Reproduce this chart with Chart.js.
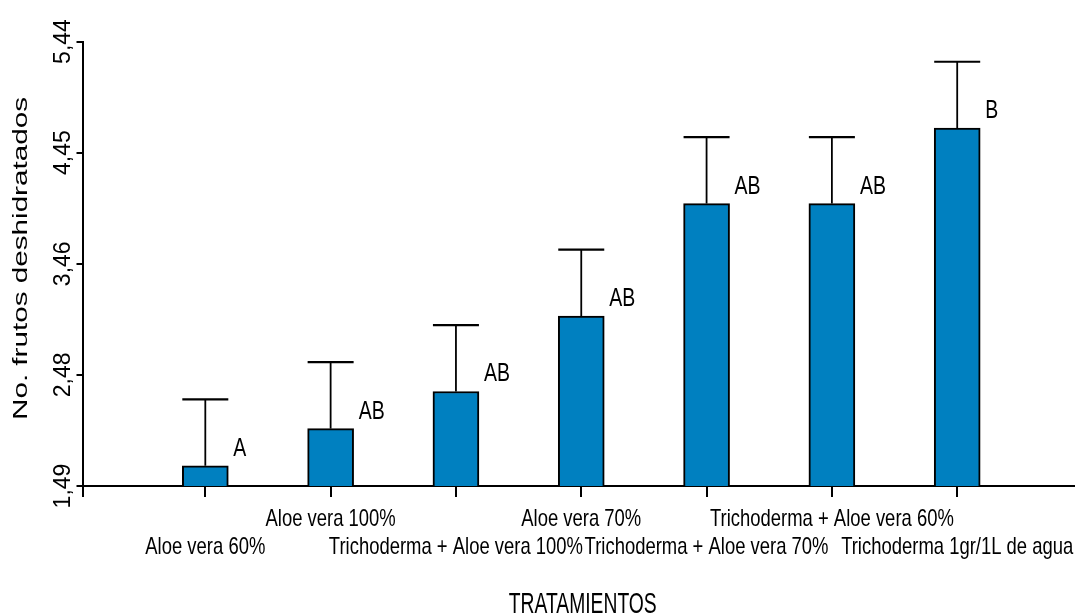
<!DOCTYPE html>
<html>
<head>
<meta charset="utf-8">
<script src="https://cdn.jsdelivr.net/npm/chart.js@4.4.1/dist/chart.umd.min.js"></script>
<style>
  html, body { margin: 0; padding: 0; background: #fff; overflow: hidden; }
  canvas { display: block; }
</style>
</head>
<body>
<canvas id="grafico" width="1075" height="615"></canvas>
<script>
// Tratamientos evaluados y número medio de frutos deshidratados
const tratamientos = [
  'Aloe vera 60%',
  'Aloe vera 100%',
  'Trichoderma + Aloe vera 100%',
  'Aloe vera 70%',
  'Trichoderma + Aloe vera 70%',
  'Trichoderma + Aloe vera 60%',
  'Trichoderma 1gr/1L de agua'
];
const medias  = [1.67, 2.00, 2.33, 3.00, 4.00, 4.00, 4.67];
const errores = [0.59, 0.59, 0.59, 0.59, 0.59, 0.59, 0.59];
const letras  = ['A', 'AB', 'AB', 'AB', 'AB', 'AB', 'B'];

// Marcas del eje Y
const yTicks      = [1.49, 2.4775, 3.465, 4.4525, 5.44];
const yTickLabels = ['1,49', '2,48', '3,46', '4,45', '5,44'];

const SANS = '"Liberation Sans", Arial, sans-serif';

// Texto con condensación horizontal (tipo "narrow")
function texto(ctx, str, x, y, size, factor, align, giro) {
  ctx.save();
  ctx.font = size + 'px ' + SANS;
  ctx.textAlign = align || 'center';
  ctx.textBaseline = 'alphabetic';
  ctx.translate(x, y);
  if (giro) ctx.rotate(giro);
  ctx.scale(factor, 1);
  ctx.fillText(str, 0, 0);
  ctx.restore();
}
function factorPara(ctx, muestra, size, ancho) {
  ctx.save();
  ctx.font = size + 'px ' + SANS;
  const w = ctx.measureText(muestra).width;
  ctx.restore();
  return ancho / w;
}

// Barras de error (solo hacia arriba) y letras de significancia
const barrasError = {
  id: 'barrasError',
  afterDatasetsDraw(chart) {
    const ctx = chart.ctx;
    const y = chart.scales.y;
    const meta = chart.getDatasetMeta(0);
    const fLetra = factorPara(ctx, 'AB', 25, 26);
    ctx.save();
    ctx.strokeStyle = '#000';
    ctx.fillStyle = '#000';
    meta.data.forEach((bar, i) => {
      const tope = y.getPixelForValue(medias[i] + errores[i]);
      const mitad = bar.width / 2;
      ctx.lineWidth = 1.8;
      ctx.beginPath();
      ctx.moveTo(bar.x, bar.y);
      ctx.lineTo(bar.x, tope);
      ctx.stroke();
      ctx.lineWidth = 2.2;
      ctx.beginPath();
      ctx.moveTo(bar.x - mitad, tope);
      ctx.lineTo(bar.x + mitad, tope);
      ctx.stroke();
      texto(ctx, letras[i], bar.x + mitad + 5, bar.y - 10, 25, fLetra, 'left');
    });
    ctx.restore();
  }
};

// Rótulos de los ejes
const rotulos = {
  id: 'rotulos',
  afterDraw(chart) {
    const ctx = chart.ctx;
    const x = chart.scales.x;
    const y = chart.scales.y;
    const area = chart.chartArea;
    ctx.save();
    ctx.fillStyle = '#000';

    // valores del eje Y, girados
    yTicks.forEach((v, i) => {
      texto(ctx, yTickLabels[i], 70, y.getPixelForValue(v), 23, 1, 'center', -Math.PI / 2);
    });

    // nombres de los tratamientos en dos filas alternas
    const fTick = factorPara(ctx, 'Aloe vera 60%', 24, 120);
    tratamientos.forEach((t, i) => {
      const fila = i % 2 === 0 ? 553.5 : 526;
      texto(ctx, t, x.getPixelForValue(i), fila, 24, fTick, 'center');
    });

    // título del eje Y
    const tituloY = 'No. frutos deshidratados';
    texto(ctx, tituloY, 27.3, 258.5, 19.5, factorPara(ctx, tituloY, 19.5, 323), 'center', -Math.PI / 2);

    // título del eje X
    const tituloX = 'TRATAMIENTOS';
    texto(ctx, tituloX, (area.left + area.right) / 2 + 4, 613, 29, factorPara(ctx, tituloX, 29, 148), 'center');

    ctx.restore();
  }
};

new Chart(document.getElementById('grafico'), {
  type: 'bar',
  data: {
    datasets: [{
      data: medias.map((v, i) => ({ x: i, y: v })),
      backgroundColor: '#0080c0',
      borderColor: '#000',
      borderWidth: 2,
      borderSkipped: false,
      barThickness: 46
    }]
  },
  options: {
    responsive: false,
    devicePixelRatio: 1,
    animation: false,
    layout: { padding: { top: 41.5, right: 0, bottom: 0, left: 0 } },
    plugins: { legend: { display: false }, tooltip: { enabled: false } },
    scales: {
      x: {
        type: 'linear',
        offset: false,
        min: -0.98,
        max: 6.94,
        afterBuildTicks: s => { s.ticks = [-0.98, 0, 1, 2, 3, 4, 5, 6].map(v => ({ value: v })); },
        afterFit: s => { s.height = 129; },
        grid: { offset: false, drawOnChartArea: false, color: '#000', lineWidth: 2, tickLength: 11, tickColor: '#000' },
        border: { display: true, color: '#000', width: 2 },
        ticks: { display: false }
      },
      y: {
        min: 1.49,
        max: 5.44,
        afterBuildTicks: s => { s.ticks = yTicks.map(v => ({ value: v })); },
        afterFit: s => { s.width = 82.5; },
        grid: { drawOnChartArea: false, color: '#000', lineWidth: 2, tickLength: 6, tickColor: '#000' },
        border: { display: true, color: '#000', width: 2 },
        ticks: { display: false }
      }
    }
  },
  plugins: [barrasError, rotulos]
});
</script>
</body>
</html>
